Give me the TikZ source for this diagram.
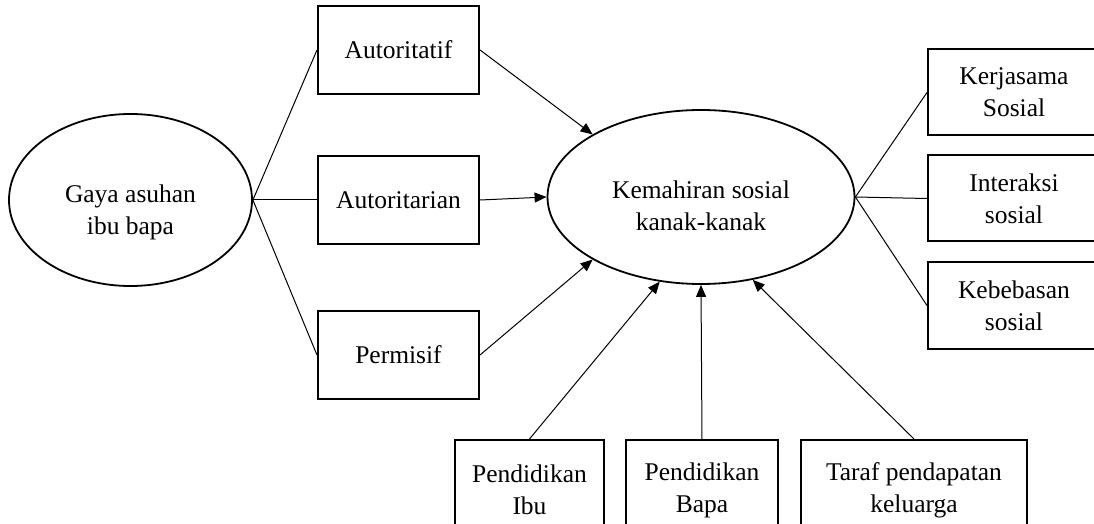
\documentclass[tikz,border=0pt]{standalone}
\usepackage{fontspec}
\setmainfont{Liberation Serif}
\usetikzlibrary{arrows.meta,shapes.geometric,positioning}
\tikzstyle{konstruk}=[ellipse,draw=black,line width=0.9pt,inner sep=0pt,align=center]
\tikzstyle{dimensi}=[rectangle,draw=black,line width=1pt,inner sep=0pt,align=center,minimum width=80.5pt,minimum height=44pt]
\tikzstyle{faktor}=[rectangle,draw=black,line width=1pt,inner sep=0pt,align=center,minimum height=50pt]
\tikzstyle{garis}=[line width=0.5pt]
\tikzstyle{laluan}=[-{Triangle[length=6pt,width=5pt]},line width=0.5pt]

\begin{document}
\begin{tikzpicture}[x=0.5pt,y=-0.5pt,font=\fontsize{12.75}{16}\selectfont]
    \clip (0,0) rectangle (1094,524);

    % Nod
    \node[konstruk,minimum width=121.5pt,minimum height=86pt] (gaya) at (130.5,200) {\rule{0pt}{21pt}Gaya asuhan\\ibu bapa};
    \node[konstruk,minimum width=153.5pt,minimum height=87pt] (kemahiran) at (701,197) {\rule{0pt}{18pt}Kemahiran sosial\\kanak-kanak};

    \node[dimensi] (autoritarian) at (398.5,200) {Autoritarian};
    \node[dimensi] (autoritatif) [above=30pt of autoritarian] {Autoritatif};
    \node[dimensi] (permisif) [below=32.5pt of autoritarian] {Permisif};

    \node[dimensi,minimum width=86pt,minimum height=43pt] (interaksi) at (1014,198.5) {Interaksi\\sosial};
    \node[dimensi,minimum width=86pt,minimum height=43pt] (kerjasama) [above=9pt of interaksi] {Kerjasama\\Sosial};
    \node[dimensi,minimum width=86pt,minimum height=43pt] (kebebasan) [below=9.5pt of interaksi] {Kebebasan\\sosial};

    \node[faktor,minimum width=76pt] (bapa) at (702,490) {Pendidikan\\Bapa};
    \node[faktor,minimum width=74.5pt] (ibu) [left=10pt of bapa] {Pendidikan\\Ibu};
    \node[faktor,minimum width=113pt] (taraf) [right=10.5pt of bapa] {Taraf pendapatan\\keluarga};

    % Garis dimensi
    \draw [garis] (gaya.east) -- (autoritatif.west);
    \draw [garis] (gaya.east) -- (autoritarian.west);
    \draw [garis] (gaya.east) -- (permisif.west);
    \draw [garis] (kemahiran.east) -- (kerjasama.west);
    \draw [garis] (kemahiran.east) -- (interaksi.west);
    \draw [garis] (kemahiran.east) -- (kebebasan.west);

    % Laluan
    \draw [laluan] (autoritatif.east) -- (kemahiran.150);
    \draw [laluan] (autoritarian.east) -- (kemahiran.west);
    \draw [laluan] (permisif.east) -- (kemahiran.210);
    \draw [laluan] (ibu.north) -- (kemahiran.244);
    \draw [laluan] (bapa.north) -- (kemahiran.south);
    \draw [laluan] (taraf.north) -- (kemahiran.302);

\end{tikzpicture}
\end{document}
